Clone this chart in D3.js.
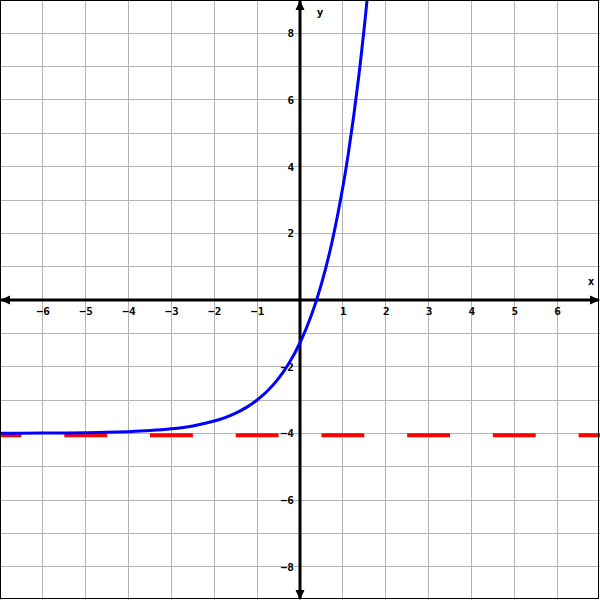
<!DOCTYPE html>
<html><head><meta charset="utf-8">
<script src="https://cdn.jsdelivr.net/npm/d3@7"></script>
<style>
html,body{margin:0;padding:0;background:#fff;}
svg{display:block;}
.tick text{font-family:"DejaVu Sans Mono",monospace;font-weight:bold;font-size:11px;fill:#000;}
</style></head>
<body>
<svg id="c" width="600" height="600"></svg>
<script>
// Data
const xDomain = [-7, 7];
const yDomain = [-9, 9];
const xTickValues = [-6, -5, -4, -3, -2, -1, 1, 2, 3, 4, 5, 6];
const yTickValues = [-8, -6, -4, -2, 2, 4, 6, 8];
const curveX = [-7, -6.5, -6, -5.5, -5, -4.5, -4, -3.5, -3, -2.5, -2, -1.75, -1.5, -1.25, -1, -0.75, -0.5, -0.25, 0, 0.25, 0.5, 0.75, 1, 1.125, 1.25, 1.375, 1.5, 1.565];
const curveY = [-3.998, -3.996, -3.993, -3.989, -3.982, -3.970, -3.950, -3.918, -3.865, -3.777, -3.632, -3.528, -3.393, -3.221, -3.0, -2.716, -2.351, -1.883, -1.282, -0.510, 0.482, 1.755, 3.389, 4.373, 5.488, 6.751, 8.182, 9.0];
const asymptoteY = -4;
const asymptoteX = [-7, 7];

const W = 600, H = 600;
const svg = d3.select("#c");
const x = d3.scaleLinear().domain(xDomain).range([0, W]);
const y = d3.scaleLinear().domain(yDomain).range([H, 0]);

// grid
const gx = d3.range(xDomain[0], xDomain[1] + 1);
const gy = d3.range(yDomain[0], yDomain[1] + 1);
const grid = svg.append("g").attr("stroke", "#b4b4b4").attr("stroke-width", 1).attr("shape-rendering", "crispEdges");
grid.selectAll("line.v").data(gx).join("line").attr("class", "v")
  .attr("x1", d => Math.floor(x(d)) + 0.5).attr("x2", d => Math.floor(x(d)) + 0.5).attr("y1", 0).attr("y2", H);
grid.selectAll("line.h").data(gy).join("line").attr("class", "h")
  .attr("y1", d => Math.floor(y(d)) + 0.5).attr("y2", d => Math.floor(y(d)) + 0.5).attr("x1", 0).attr("x2", W);

// asymptote (dashed red)
const unit = x(1) - x(0);
svg.append("line")
  .attr("x1", x(asymptoteX[0])).attr("x2", x(asymptoteX[1]))
  .attr("y1", y(asymptoteY) + 2).attr("y2", y(asymptoteY) + 2)
  .attr("stroke", "#ff0000").attr("stroke-width", 4)
  .attr("stroke-dasharray", `${unit} ${unit}`)
  .attr("stroke-dashoffset", unit * 0.5);

// axes lines with arrows
const defs = svg.append("defs");
defs.append("marker").attr("id", "arr").attr("viewBox", "0 0 10 10")
  .attr("refX", 9).attr("refY", 5).attr("markerWidth", 10).attr("markerHeight", 10)
  .attr("markerUnits", "userSpaceOnUse").attr("orient", "auto-start-reverse")
  .append("path").attr("d", "M0,0.5 L10,5 L0,9.5 Z").attr("fill", "#000");

svg.append("line").attr("x1", 1).attr("x2", W - 1).attr("y1", y(0)).attr("y2", y(0))
  .attr("stroke", "#000").attr("stroke-width", 3)
  .attr("marker-start", "url(#arr)").attr("marker-end", "url(#arr)");
svg.append("line").attr("y1", H - 1).attr("y2", 1).attr("x1", x(0)).attr("x2", x(0))
  .attr("stroke", "#000").attr("stroke-width", 3)
  .attr("marker-start", "url(#arr)").attr("marker-end", "url(#arr)");

// tick labels via d3 axes
const xAxis = svg.append("g").attr("transform", `translate(0,${y(0)})`)
  .call(d3.axisBottom(x).tickValues(xTickValues).tickSize(0).tickPadding(7));
xAxis.select(".domain").remove();
const yAxis = svg.append("g").attr("transform", `translate(${x(0)},0)`)
  .call(d3.axisLeft(y).tickValues(yTickValues).tickSize(0).tickPadding(6));
yAxis.select(".domain").remove();
svg.selectAll(".tick text").attr("fill", "#000");

// curve
svg.append("clipPath").attr("id", "clip").append("rect").attr("x", 0).attr("y", 0).attr("width", W).attr("height", H);
const pts = curveX.map((d, i) => [d, curveY[i]]);
svg.append("path").datum(pts)
  .attr("clip-path", "url(#clip)")
  .attr("fill", "none").attr("stroke", "#0000ff").attr("stroke-width", 3)
  .attr("d", d3.line().x(d => x(d[0])).y(d => y(d[1])).curve(d3.curveCatmullRom));

// axis name labels
svg.append("text").attr("x", 320).attr("y", 16).attr("text-anchor", "middle")
  .attr("font-family", "DejaVu Sans Mono, monospace").attr("font-weight", "bold").attr("font-size", 11).text("y");
svg.append("text").attr("x", 591).attr("y", 285).attr("text-anchor", "middle")
  .attr("font-family", "DejaVu Sans Mono, monospace").attr("font-weight", "bold").attr("font-size", 11).text("x");

// border
svg.append("rect").attr("x", 0.5).attr("y", 0.5).attr("width", W - 2).attr("height", H - 2)
  .attr("fill", "none").attr("stroke", "#000").attr("stroke-width", 1);
</script>
</body></html>
